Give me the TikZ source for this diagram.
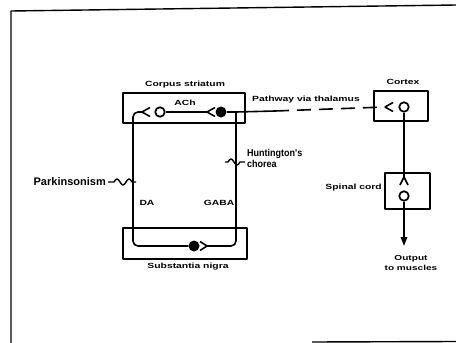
\documentclass[tikz,border=0pt]{standalone}
\usepackage{fontspec}
\setmainfont{Liberation Sans}
\newfontfamily\lblfont{Liberation Sans}[FakeStretch=1.38]
\newfontfamily\narrowfont{Liberation Sans}[FakeStretch=0.9]
\usetikzlibrary{arrows.meta}
\tikzset{
  lbl/.style={font=\lblfont\bfseries\fontsize{7.5}{9.5}\selectfont, inner sep=0pt},
  plab/.style={font=\bfseries\fontsize{11}{12}\selectfont, inner sep=0pt},
  hlab/.style={font=\narrowfont\bfseries\fontsize{10}{10.5}\selectfont, inner sep=0pt},
  box/.style={draw, line width=1.3pt, inner sep=0pt},
  cell/.style={circle, draw, line width=1.7pt, minimum size=9.5pt, inner sep=0pt},
  dotcell/.style={circle, fill, minimum size=11pt, inner sep=0pt},
  axon/.style={line width=1.6pt},
  lesion/.style={line width=1.4pt},
  frame/.style={line width=1.4pt}
}
\begin{document}
\begin{tikzpicture}[x=1pt,y=-1pt, line join=round]
\useasboundingbox (0,0) rectangle (456,343);
% frame
\coordinate (fbl) at (11,343);
\coordinate (ftl) at (11,11);
\coordinate (ftr) at (456,5);
\coordinate (fb1) at (312,342);
\coordinate (fb2) at (456,341.5);
\draw[frame] (fbl) -- (ftl) -- (ftr);
\draw[frame] (fb1) -- (fb2);

% corpus striatum
\node[box, minimum width=122pt, minimum height=30pt] (cs) at (184,108) {};
\node[lbl] (cslab) at (185,85) {Corpus striatum};
\node[lbl] (achlab) at (185,103) {ACh};
\node[cell] (ach) at (160,112) {};
\node[dotcell] (gaba) at (221,112) {};
\coordinate (daT) at (142,112);
\coordinate (achT) at (207,112);
\coordinate (gabaJ) at (236,112);
\coordinate (pathE) at (275,111);
\coordinate (daC1) at (133,112);
\coordinate (daC2) at (133,246);
\coordinate (gaC) at (236,246);

% cortex
\node[box, minimum width=54pt, minimum height=30pt] (cx) at (401,106) {};
\node[lbl] (cxlab) at (403,82) {Cortex};
\node[cell] (cxc) at (404,107) {};
\coordinate (cxT) at (385,107);
\node[lbl] (pathlab) at (306,100) {Pathway via thalamus};

% spinal cord
\node[box, minimum width=45pt, minimum height=36pt] (sc) at (407.5,191) {};
\node[lbl, anchor=east] (sclab) at (382,188) {Spinal cord};
\node[cell] (scc) at (404,196) {};
\coordinate (scT) at (404,177);
\coordinate (out) at (404,246);
\node[lbl, align=center, font=\lblfont\bfseries\fontsize{7.3}{10}\selectfont] (outlab) at (411,263) {Output\\to muscles};

% substantia nigra
\node[box, minimum width=124pt, minimum height=31pt] (sn) at (185,243.5) {};
\node[lbl] (snlab) at (188,267) {Substantia nigra};
\node[dotcell] (da) at (194,246) {};
\coordinate (gabaT) at (207,246);
\node[lbl] (dalab) at (147,203) {DA};
\node[lbl] (gabalab) at (219,203) {GABA};

% DA neuron
\draw[axon, rounded corners=5pt] (da.west) -- (daC2) -- (daC1) -- (daT);
\draw[axon] (daT) -- ++(8,-4.5) (daT) -- ++(8,4.5);
% ACh neuron
\draw[axon] (ach.east) -- (achT);
\draw[axon] (achT) -- ++(8,-4.5) (achT) -- ++(8,4.5);
% GABA neuron
\draw[axon] (gaba.east) -- (gabaJ);
\draw[axon, rounded corners=5pt] (gabaJ) -- (gaC) -- (gabaT);
\draw[axon] (gabaT) -- ++(-7,-4.5) (gabaT) -- ++(-7,4.5);
% pathway via thalamus
\draw[axon] (gabaJ) -- (pathE);
\draw[axon, dash pattern=on 14pt off 8pt] (pathE) -- (cxT);
\draw[axon] (cxT) -- ++(8,-4.5) (cxT) -- ++(8,4.5);
% cortex to spinal cord
\draw[axon] (cxc.south) -- (scT);
\draw[axon] (scT) -- ++(-4,8) (scT) -- ++(4,8);
\draw[axon, -{Triangle[length=9pt,width=6.5pt]}] (scc.south) -- (out);

% lesions
\node[plab, anchor=east] (pk) at (106,182) {Parkinsonism};
\coordinate (pk1) at (108,182);
\draw[lesion] (pk1) -- ++(6,0) sin ++(3,-3) cos ++(3,3) sin ++(3,3) cos ++(3,-3) sin ++(3,-3) cos ++(3,3) -- ++(4,0);
\node[hlab, anchor=west, align=left] (hd) at (247,158.5) {Huntington's\\chorea};
\coordinate (hd1) at (225,162);
\draw[lesion] (hd1) -- ++(3,0) sin ++(3,-3) cos ++(3,3) sin ++(3,3) cos ++(3,-3) -- ++(5,0);
\end{tikzpicture}
\end{document}
